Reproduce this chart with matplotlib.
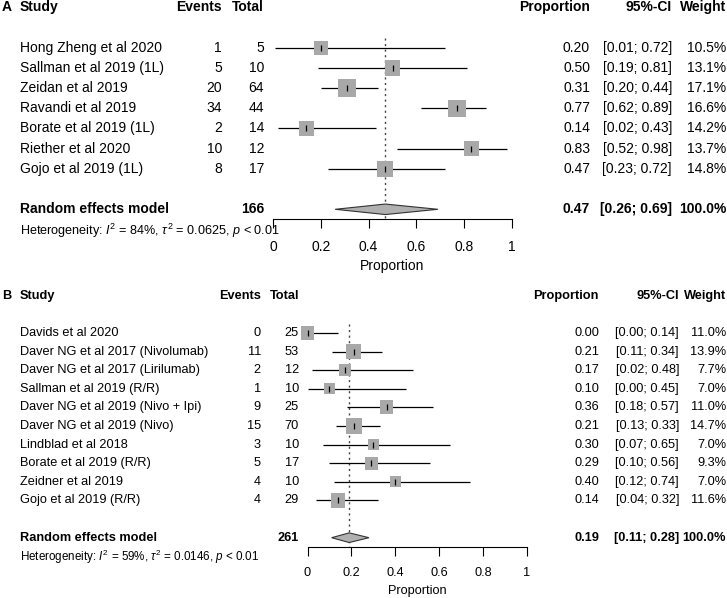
import matplotlib
matplotlib.use("Agg")
import matplotlib.pyplot as plt
import matplotlib.transforms as mtransforms
import numpy as np

plt.rcParams['font.family'] = ['Liberation Sans', 'DejaVu Sans']
plt.rcParams['mathtext.fontset'] = 'custom'
plt.rcParams['mathtext.rm'] = 'Liberation Sans'
plt.rcParams['mathtext.it'] = 'Liberation Sans:italic'
plt.rcParams['mathtext.bf'] = 'Liberation Sans:bold'

# Panel A data (first line)
studies_a = ["Hong Zheng et al 2020", "Sallman et al 2019 (1L)", "Zeidan et al 2019",
             "Ravandi et al 2019", "Borate et al 2019 (1L)", "Riether et al 2020",
             "Gojo et al 2019 (1L)"]
events_a = [1, 5, 20, 34, 2, 10, 8]
total_a = [5, 10, 64, 44, 14, 12, 17]
prop_a = [0.20, 0.50, 0.31, 0.77, 0.14, 0.83, 0.47]
lo_a = [0.01, 0.19, 0.20, 0.62, 0.02, 0.52, 0.23]
hi_a = [0.72, 0.81, 0.44, 0.89, 0.43, 0.98, 0.72]
weight_a = [10.5, 13.1, 17.1, 16.6, 14.2, 13.7, 14.8]
summary_a = (0.47, 0.26, 0.69)
het_a = r"Heterogeneity: $I^2$ = 84%, $\tau^2$ = 0.0625, $p$ < 0.01"

# Panel B data (relapsed/refractory)
studies_b = ["Davids et al 2020", "Daver NG et al 2017 (Nivolumab)",
             "Daver NG et al 2017 (Lirilumab)", "Sallman et al 2019 (R/R)",
             "Daver NG et al 2019 (Nivo + Ipi)", "Daver NG et al 2019 (Nivo)",
             "Lindblad et al 2018", "Borate et al 2019 (R/R)", "Zeidner et al 2019",
             "Gojo et al 2019 (R/R)"]
events_b = [0, 11, 2, 1, 9, 15, 3, 5, 4, 4]
total_b = [25, 53, 12, 10, 25, 70, 10, 17, 10, 29]
prop_b = [0.00, 0.21, 0.17, 0.10, 0.36, 0.21, 0.30, 0.29, 0.40, 0.14]
lo_b = [0.00, 0.11, 0.02, 0.00, 0.18, 0.13, 0.07, 0.10, 0.12, 0.04]
hi_b = [0.14, 0.34, 0.48, 0.45, 0.57, 0.33, 0.65, 0.56, 0.74, 0.32]
weight_b = [11.0, 13.9, 7.7, 7.0, 11.0, 14.7, 7.0, 9.3, 7.0, 11.6]
summary_b = (0.19, 0.11, 0.28)
het_b = r"Heterogeneity: $I^2$ = 59%, $\tau^2$ = 0.0146, $p$ < 0.01"

xticks = [0, 0.2, 0.4, 0.6, 0.8, 1]
xticklabels = ["0", "0.2", "0.4", "0.6", "0.8", "1"]

W, H = 727, 598
fig = plt.figure(figsize=(W / 100, H / 100), dpi=100)


def draw_panel(letter, rect, studies, events, totals, prop, lo, hi, weights,
               summary, het, cols, fs, hfs, het_fs):
    n = len(studies)
    ax = fig.add_axes(rect)
    ax.set_xlim(0, 1)
    ax.set_ylim(n + 3.5, 1.0)
    for s in ['top', 'left', 'right']:
        ax.spines[s].set_visible(False)
    ax.spines['bottom'].set_linewidth(0.8)
    ax.set_yticks([])
    ax.set_xticks(xticks)
    ax.set_xticklabels(xticklabels)
    ax.tick_params(axis='x', length=6.5, width=0.8, pad=8, labelsize=fs)
    ax.set_xlabel("Proportion", fontsize=fs, labelpad=4)

    rows = np.arange(2, n + 2)
    srow = n + 3
    est, slo, shi = summary

    # dotted line at pooled estimate
    ax.vlines(est, 1.5, n + 3.5, colors='#444444', linestyles=(0, (1.5, 2.5)),
              linewidth=1.0, zorder=0.5)
    # CIs, boxes, centre ticks
    ax.hlines(rows, lo, hi, colors='black', linewidth=0.9, zorder=1)
    side = 4.2 * np.sqrt(np.array(weights)) * 0.72
    ax.scatter(prop, rows, s=side ** 2, marker='s', color='#a8a8a8',
               linewidths=0, zorder=2, clip_on=False)
    ax.scatter(prop, rows, s=16, marker='|', color='black', linewidths=0.9,
               zorder=3, clip_on=False)
    # diamond
    hh = 0.26
    ax.fill([slo, est, shi, est], [srow, srow - hh, srow, srow + hh],
            facecolor='#b0b0b0', edgecolor='#333333', linewidth=0.8, zorder=2,
            clip_on=False)

    tr = mtransforms.blended_transform_factory(fig.transFigure, ax.transData)
    sx, ev_x, tot_x, pr_x, ci_x, w_x = [c / W for c in cols]

    # header
    hy = 0
    fig.text(2 / W, hy, letter, transform=tr, fontsize=hfs, fontweight='bold', va='center')
    fig.text(sx, hy, "Study", transform=tr, fontsize=hfs, fontweight='bold', va='center')
    fig.text(ev_x, hy, "Events", transform=tr, fontsize=hfs, fontweight='bold', va='center', ha='right')
    fig.text(tot_x, hy, "Total", transform=tr, fontsize=hfs, fontweight='bold', va='center', ha='right')
    fig.text(pr_x, hy, "Proportion", transform=tr, fontsize=hfs, fontweight='bold', va='center', ha='right')
    fig.text(ci_x, hy, "95%-CI", transform=tr, fontsize=hfs, fontweight='bold', va='center', ha='right')
    fig.text(w_x, hy, "Weight", transform=tr, fontsize=hfs, fontweight='bold', va='center', ha='right')

    for r, st, e, t, p, l, h, w in zip(rows, studies, events, totals, prop, lo, hi, weights):
        fig.text(sx, r, st, transform=tr, fontsize=fs, va='center')
        fig.text(ev_x, r, str(e), transform=tr, fontsize=fs, va='center', ha='right')
        fig.text(tot_x, r, str(t), transform=tr, fontsize=fs, va='center', ha='right')
        fig.text(pr_x, r, f"{p:.2f}", transform=tr, fontsize=fs, va='center', ha='right')
        fig.text(ci_x, r, f"[{l:.2f}; {h:.2f}]", transform=tr, fontsize=fs, va='center', ha='right')
        fig.text(w_x, r, f"{w:.1f}%", transform=tr, fontsize=fs, va='center', ha='right')

    # summary row
    fig.text(sx, srow, "Random effects model", transform=tr, fontsize=hfs, fontweight='bold', va='center')
    fig.text(tot_x, srow, str(sum(totals)), transform=tr, fontsize=hfs, fontweight='bold', va='center', ha='right')
    fig.text(pr_x, srow, f"{est:.2f}", transform=tr, fontsize=hfs, fontweight='bold', va='center', ha='right')
    fig.text(ci_x, srow, f"[{slo:.2f}; {shi:.2f}]", transform=tr, fontsize=hfs, fontweight='bold', va='center', ha='right')
    fig.text(w_x, srow, "100.0%", transform=tr, fontsize=hfs, fontweight='bold', va='center', ha='right')
    fig.text(sx, srow + 1.05, het, transform=tr, fontsize=het_fs, va='center')
    return ax


# panel A: x 0..1 at px 273..512, row 1 at px 27.5, axis at px 219.4
draw_panel("A", [273 / W, 1 - 219.4 / H, 239 / W, 191.9 / H],
           studies_a, events_a, total_a, prop_a, lo_a, hi_a, weight_a,
           summary_a, het_a, [20, 222, 264, 590, 672, 726], 10, 10, 9.1)

# panel B: x 0..1 at px 307.5..527, row 1 at px 314.4, axis at px 547
draw_panel("B", [307.5 / W, 1 - 547 / H, 219.5 / W, 232.6 / H],
           studies_b, events_b, total_b, prop_b, lo_b, hi_b, weight_b,
           summary_b, het_b, [20, 261, 299, 599, 679, 726], 9.2, 9.2, 8.4)

fig.savefig("out.png", dpi=100)
